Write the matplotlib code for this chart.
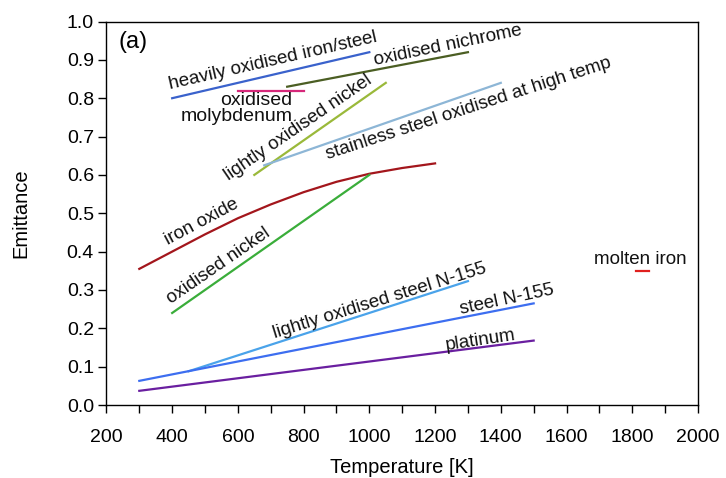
import matplotlib
matplotlib.use("Agg")
import matplotlib.pyplot as plt

plt.rcParams['font.family'] = ['Liberation Sans', 'DejaVu Sans']

# Emittance vs temperature for various metals and oxides
heavy_fe_T = [400, 1000]
heavy_fe_E = [0.80, 0.92]

nichrome_T = [750, 1300]
nichrome_E = [0.83, 0.92]

moly_T = [600, 800]
moly_E = [0.82, 0.82]

light_ni_T = [650, 1050]
light_ni_E = [0.60, 0.84]

stainless_T = [680, 1400]
stainless_E = [0.625, 0.84]

iron_oxide_T = [300, 400, 500, 600, 700, 800, 900, 1000, 1100, 1200]
iron_oxide_E = [0.355, 0.40, 0.445, 0.487, 0.523, 0.555, 0.582, 0.603, 0.618, 0.63]

ox_ni_T = [400, 1000]
ox_ni_E = [0.24, 0.60]

light_n155_T = [450, 1300]
light_n155_E = [0.088, 0.323]

n155_T = [300, 1500]
n155_E = [0.063, 0.265]

platinum_T = [300, 1500]
platinum_E = [0.037, 0.168]

molten_T = [1810, 1850]
molten_E = [0.35, 0.35]

x_ticks = list(range(200, 2001, 200))
y_ticks = [round(0.1 * i, 1) for i in range(11)]

fig = plt.figure(figsize=(7.26, 4.78), dpi=100)
ax = fig.add_axes([0.1466, 0.1527, 0.8148, 0.8023])

lw = 1.6
ax.plot(heavy_fe_T, heavy_fe_E, color='#3a62cc', lw=lw)
ax.plot(nichrome_T, nichrome_E, color='#4b5e23', lw=lw)
ax.plot(moly_T, moly_E, color='#d6287a', lw=lw)
ax.plot(light_ni_T, light_ni_E, color='#9ab93a', lw=lw)
ax.plot(stainless_T, stainless_E, color='#8db6d6', lw=lw)
ax.plot(iron_oxide_T, iron_oxide_E, color='#a3161c', lw=lw)
ax.plot(ox_ni_T, ox_ni_E, color='#3aad3a', lw=lw)
ax.plot(light_n155_T, light_n155_E, color='#4aa3ea', lw=lw)
ax.plot(n155_T, n155_E, color='#3d6ef0', lw=lw)
ax.plot(platinum_T, platinum_E, color='#6a1fa0', lw=lw)
ax.plot(molten_T, molten_E, color='#e0201e', lw=lw)

fs = 13.5
def label(x, y, s, rot, **kw):
    ax.text(x, y, s, rotation=rot, rotation_mode='anchor', ha='center',
            va='baseline', fontsize=fs, color='#111111', **kw)

label(709, 0.885, 'heavily oxidised iron/steel', 12.9)
label(1243, 0.926, 'oxidised nichrome', 11.6)
ax.text(766, 0.815, 'oxidised\nmolybdenum', ha='right', va='top', ma='right',
        fontsize=14, color='#111111', linespacing=0.85)
label(790, 0.714, 'lightly oxidised nickel', 34.3)
label(1305, 0.762, 'stainless steel oxidised at high temp', 18.0)
label(495, 0.468, 'iron oxide', 28.0)
label(548, 0.354, 'oxidised nickel', 34.5)
label(1035, 0.26, 'lightly oxidised steel N-155', 17.2)
label(1420, 0.264, 'steel N-155', 12.0)
label(1340, 0.156, 'platinum', 8.5)
label(1825, 0.368, 'molten iron', 0)
ax.text(0.02, 0.975, '(a)', transform=ax.transAxes, ha='left', va='top',
        fontsize=17)

ax.set_xlim(200, 2000)
ax.set_ylim(0, 1.0)
ax.set_xticks(x_ticks)
ax.set_xticks(range(300, 2000, 200), minor=True)
ax.set_yticks(y_ticks)
ax.set_yticklabels([f'{v:.1f}' for v in y_ticks])
ax.tick_params(which='both', direction='out', length=6, width=1,
               labelsize=14, top=False, right=False)
ax.tick_params(axis='x', which='major', pad=11)
ax.tick_params(axis='y', pad=3)
ax.set_xlabel('Temperature [K]', fontsize=14.5, labelpad=9)
ax.set_ylabel('Emittance', fontsize=14.5, labelpad=26)
for sp in ax.spines.values():
    sp.set_linewidth(1.0)

fig.savefig('out.png', dpi=100)
